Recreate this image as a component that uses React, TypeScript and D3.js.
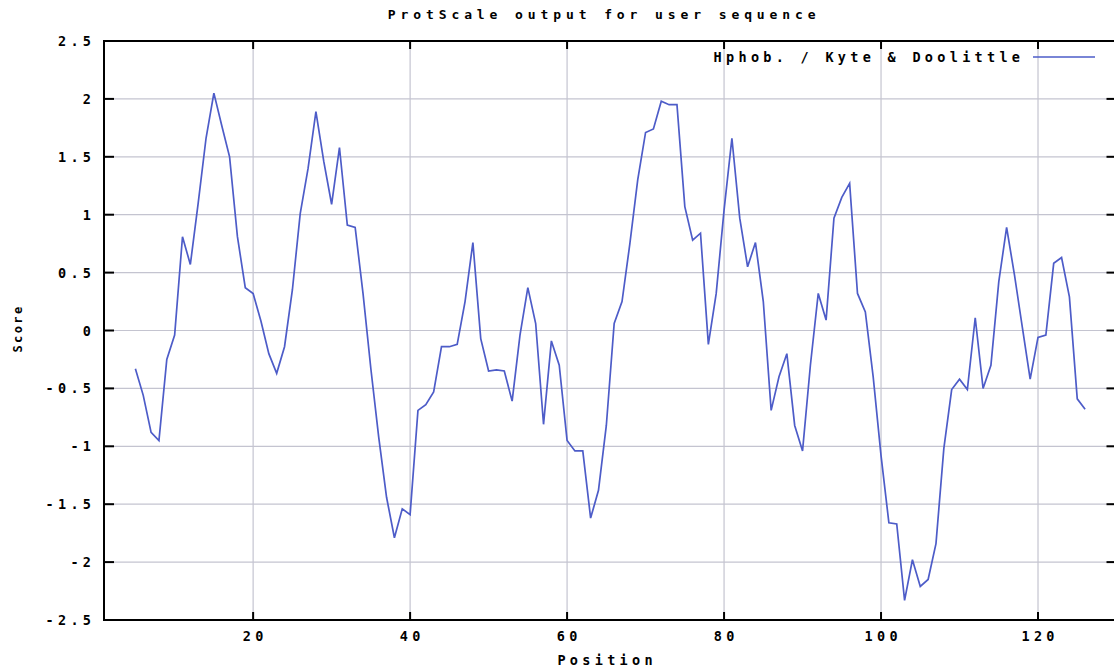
import React from "react";
import * as d3 from "d3";

// Kyte & Doolittle hydropathy, window 9 -> first score sits at position 5
const firstPosition = 5;
const scores = [
  -0.33, -0.56, -0.88, -0.95, -0.25, -0.04, 0.81, 0.57, 1.1, 1.66,
  2.05, 1.77, 1.5, 0.81, 0.37, 0.32, 0.08, -0.2, -0.37, -0.14,
  0.35, 1.01, 1.4, 1.89, 1.46, 1.09, 1.58, 0.91, 0.89, 0.32,
  -0.33, -0.92, -1.44, -1.79, -1.54, -1.59, -0.69, -0.64, -0.53, -0.14,
  -0.14, -0.12, 0.25, 0.76, -0.07, -0.35, -0.34, -0.35, -0.61, -0.04,
  0.37, 0.06, -0.81, -0.09, -0.3, -0.95, -1.04, -1.04, -1.62, -1.38,
  -0.82, 0.06, 0.25, 0.75, 1.3, 1.71, 1.74, 1.98, 1.95, 1.95,
  1.07, 0.78, 0.84, -0.12, 0.32, 1.04, 1.66, 0.97, 0.55, 0.76,
  0.25, -0.69, -0.4, -0.2, -0.82, -1.04, -0.3, 0.32, 0.09, 0.97,
  1.15, 1.27, 0.32, 0.16, -0.4, -1.08, -1.66, -1.67, -2.33, -1.98,
  -2.21, -2.15, -1.84, -1.02, -0.51, -0.42, -0.51, 0.11, -0.5, -0.3,
  0.42, 0.89, 0.48, 0.03, -0.42, -0.06, -0.04, 0.58, 0.63, 0.29,
  -0.59, -0.68,
];

const xTicks = [20, 40, 60, 80, 100, 120];
const yTicks = [-2.5, -2, -1.5, -1, -0.5, 0, 0.5, 1, 1.5, 2, 2.5];
const xDomain = [1, 130];
const yDomain = [-2.5, 2.5];

const title = "ProtScale output for user sequence";
const legendLabel = "Hphob. / Kyte & Doolittle";
const xLabel = "Position";
const yLabel = "Score";

const W = 1114;
const H = 668;
const plot = { left: 104, right: 1116.5, top: 41, bottom: 620 };

const font = {
  fontFamily: "'DejaVu Sans Mono', monospace",
  fontWeight: "bold" as const,
  fontSize: 13.5,
  letterSpacing: 4.3,
};
const lineColor = "#4d5cc8";
const gridColor = "#c4c4d0";

export default function App() {
  const x = d3.scaleLinear().domain(xDomain).range([plot.left, plot.right]);
  const y = d3.scaleLinear().domain(yDomain).range([plot.bottom, plot.top]);

  const data = scores.map((s, i) => ({ pos: firstPosition + i, score: s }));
  const line = d3
    .line<{ pos: number; score: number }>()
    .x((d) => x(d.pos))
    .y((d) => y(d.score));

  const fmt = (v: number) => (Number.isInteger(v) ? String(v) : v.toFixed(1));
  const ls = font.letterSpacing;

  return (
    <svg
      width={W}
      height={H}
      style={{ position: "absolute", left: 0, top: 0, background: "#fff" }}
    >
      <rect x={0} y={0} width={W} height={H} fill="#fff" />

      {/* grid */}
      {yTicks.slice(1, -1).map((t) => (
        <line key={"gy" + t} x1={plot.left} x2={plot.right} y1={y(t)} y2={y(t)}
          stroke={gridColor} strokeWidth={1.2} />
      ))}
      {xTicks.map((t) => (
        <line key={"gx" + t} x1={x(t)} x2={x(t)} y1={plot.top} y2={plot.bottom}
          stroke={gridColor} strokeWidth={1.2} />
      ))}

      {/* ticks */}
      {yTicks.map((t) => (
        <g key={"ty" + t}>
          <line x1={plot.left} x2={plot.left + 10} y1={y(t)} y2={y(t)} stroke="#000" strokeWidth={2} />
          <line x1={plot.right - 10} x2={plot.right} y1={y(t)} y2={y(t)} stroke="#000" strokeWidth={2} />
        </g>
      ))}
      {xTicks.map((t) => (
        <g key={"tx" + t}>
          <line x1={x(t)} x2={x(t)} y1={plot.bottom} y2={plot.bottom - 8} stroke="#000" strokeWidth={2} />
          <line x1={x(t)} x2={x(t)} y1={plot.top} y2={plot.top + 8} stroke="#000" strokeWidth={2} />
        </g>
      ))}

      {/* series */}
      <path d={line(data) || ""} fill="none" stroke={lineColor} strokeWidth={1.7} />

      {/* border */}
      <rect x={plot.left} y={plot.top} width={plot.right - plot.left} height={plot.bottom - plot.top}
        fill="none" stroke="#000" strokeWidth={2} />

      {/* tick labels */}
      {yTicks.map((t) => (
        <text key={"ly" + t} x={91 + ls} y={y(t) + 5} textAnchor="end" style={font}>
          {fmt(t)}
        </text>
      ))}
      {xTicks.map((t) => (
        <text key={"lx" + t} x={x(t) + ls / 2} y={641} textAnchor="middle" style={font}>
          {t}
        </text>
      ))}

      {/* legend */}
      <text x={1020 + ls} y={62} textAnchor="end" style={font}>
        {legendLabel}
      </text>
      <line x1={1033} x2={1095} y1={57} y2={57} stroke={lineColor} strokeWidth={1.4} />

      {/* titles */}
      <text x={602 + ls / 2} y={19} textAnchor="middle" style={{ ...font, fontSize: 13, letterSpacing: 4.9 }}>
        {title}
      </text>
      <text x={605 + ls / 2} y={665} textAnchor="middle" style={font}>
        {xLabel}
      </text>
      <text transform={`translate(22,${330 - 1.5})rotate(-90)`} textAnchor="middle"
        style={{ ...font, fontSize: 12, letterSpacing: 2.4 }}>
        {yLabel}
      </text>
    </svg>
  );
}
